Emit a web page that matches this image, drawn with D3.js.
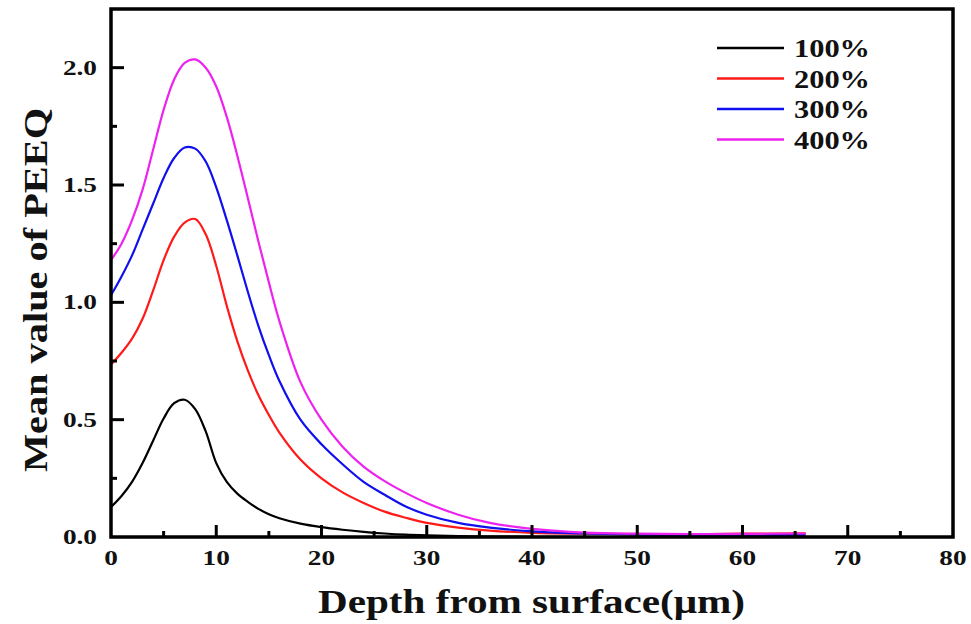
<!DOCTYPE html>
<html lang="en">
<head>
    <meta charset="utf-8">
    <script src="https://d3js.org/d3.v7.min.js"></script>
    <style>
        body { margin: 0; background: #fff; }
        text { font-family: "Liberation Serif", "Times New Roman", serif; font-weight: bold; fill: #111; }
        .tick-label { font-size: 21px; }
        .axis-title { font-size: 33px; }
        .legend-label { font-size: 26px; }
    </style>
</head>
<body>
    <div id="chart"></div>
    <script>
        // depth (um) shared by all curves
        const depth = [0, 1, 2, 3, 4, 5, 6, 7, 8, 9, 10, 11, 12, 13, 14, 15, 16, 18, 20, 22, 24, 26, 28, 30, 33, 36, 40, 45, 50, 55, 60, 66];

        const peeq100 = [0.128, 0.175, 0.235, 0.315, 0.41, 0.505, 0.57, 0.585, 0.545, 0.45, 0.315, 0.235, 0.185, 0.15, 0.12, 0.097, 0.08, 0.057, 0.042, 0.031, 0.022, 0.015, 0.01, 0.007, 0.004, 0.002, 0.001, 0, 0, 0, 0, 0];
        const peeq200 = [0.735, 0.785, 0.845, 0.93, 1.05, 1.18, 1.28, 1.34, 1.355, 1.29, 1.155, 0.985, 0.835, 0.71, 0.605, 0.52, 0.445, 0.33, 0.25, 0.19, 0.145, 0.108, 0.082, 0.06, 0.04, 0.027, 0.018, 0.014, 0.012, 0.012, 0.014, 0.016];
        const peeq300 = [1.03, 1.11, 1.2, 1.31, 1.42, 1.53, 1.615, 1.66, 1.655, 1.6, 1.49, 1.35, 1.2, 1.045, 0.9, 0.775, 0.665, 0.5, 0.395, 0.31, 0.235, 0.18, 0.13, 0.095, 0.06, 0.04, 0.024, 0.015, 0.01, 0.008, 0.008, 0.008];
        const peeq400 = [1.18, 1.25, 1.35, 1.48, 1.65, 1.82, 1.95, 2.02, 2.035, 2.0, 1.92, 1.79, 1.625, 1.445, 1.26, 1.085, 0.92, 0.66, 0.5, 0.385, 0.3, 0.238, 0.188, 0.145, 0.095, 0.06, 0.035, 0.019, 0.014, 0.012, 0.013, 0.015];

        const seriesNames = ["100%", "200%", "300%", "400%"];
        const seriesColors = ["#000000", "#ff1a1a", "#1010ee", "#ee22ee"];
        const seriesValues = [peeq100, peeq200, peeq300, peeq400];

        const xTicks = [0, 10, 20, 30, 40, 50, 60, 70, 80];
        const yTicks = [0.0, 0.5, 1.0, 1.5, 2.0];

        const width = 971;
        const height = 624;
        const margin = { top: 9, right: 18, bottom: 87, left: 111 };

        const svg = d3.select("#chart")
            .append("svg")
            .attr("width", width)
            .attr("height", height);

        const xScale = d3.scaleLinear().domain([0, 80]).range([margin.left, width - margin.right]);
        const yScale = d3.scaleLinear().domain([0, 2.25]).range([height - margin.bottom, margin.top]);
        const y0 = yScale(0);
        const x0 = xScale(0);

        // curves
        const line = d3.line()
            .x((d, i) => xScale(depth[i]))
            .y(d => yScale(d))
            .curve(d3.curveCatmullRom.alpha(0.5));

        seriesValues.forEach((vals, k) => {
            svg.append("path")
                .datum(vals)
                .attr("d", line)
                .attr("fill", "none")
                .attr("stroke", seriesColors[k])
                .attr("stroke-width", 2.2);
        });

        // inward ticks
        svg.selectAll(".xtick")
            .data(d3.range(5, 80, 5))
            .enter().append("line")
            .attr("x1", d => xScale(d)).attr("x2", d => xScale(d))
            .attr("y1", y0)
            .attr("y2", d => d % 10 === 0 ? y0 - 12 : y0 - 6)
            .attr("stroke", "#000")
            .attr("stroke-width", 3);

        svg.selectAll(".ytick")
            .data(d3.range(1, 9))
            .enter().append("line")
            .attr("x1", x0)
            .attr("x2", d => d % 2 === 0 ? x0 + 13 : x0 + 6)
            .attr("y1", d => yScale(d * 0.25)).attr("y2", d => yScale(d * 0.25))
            .attr("stroke", "#000")
            .attr("stroke-width", 3);

        // frame
        svg.append("rect")
            .attr("x", x0)
            .attr("y", yScale(2.25))
            .attr("width", xScale(80) - x0)
            .attr("height", y0 - yScale(2.25))
            .attr("fill", "none")
            .attr("stroke", "#000")
            .attr("stroke-width", 3.5);

        // tick labels, glyphs are wide in the source so scale them horizontally
        svg.selectAll(".xlab")
            .data(xTicks)
            .enter().append("text")
            .attr("class", "tick-label")
            .attr("transform", d => "translate(" + xScale(d) + "," + (y0 + 28) + ") scale(1.3,1)")
            .attr("text-anchor", "middle")
            .text(d => d);

        svg.selectAll(".ylab")
            .data(yTicks)
            .enter().append("text")
            .attr("class", "tick-label")
            .attr("transform", d => "translate(" + (x0 - 14) + "," + (yScale(d) + 7) + ") scale(1.3,1)")
            .attr("text-anchor", "end")
            .text(d => d.toFixed(1));

        // axis titles
        svg.append("text")
            .attr("class", "axis-title")
            .attr("x", 318)
            .attr("y", 613)
            .attr("textLength", 427)
            .attr("lengthAdjust", "spacingAndGlyphs")
            .text("Depth from surface(\u03bcm)");

        svg.append("text")
            .attr("class", "axis-title")
            .attr("transform", "translate(47,472) rotate(-90)")
            .attr("textLength", 364)
            .attr("lengthAdjust", "spacingAndGlyphs")
            .text("Mean value of PEEQ");

        // legend
        const legend = svg.append("g");
        seriesNames.forEach((name, k) => {
            const y = 48 + k * 30.5;
            legend.append("line")
                .attr("x1", 717).attr("x2", 784)
                .attr("y1", y).attr("y2", y)
                .attr("stroke", seriesColors[k])
                .attr("stroke-width", 2.5);
            legend.append("text")
                .attr("class", "legend-label")
                .attr("x", 794)
                .attr("y", y + 9)
                .attr("textLength", 76)
                .attr("lengthAdjust", "spacingAndGlyphs")
                .text(name);
        });
    </script>
</body>
</html>
